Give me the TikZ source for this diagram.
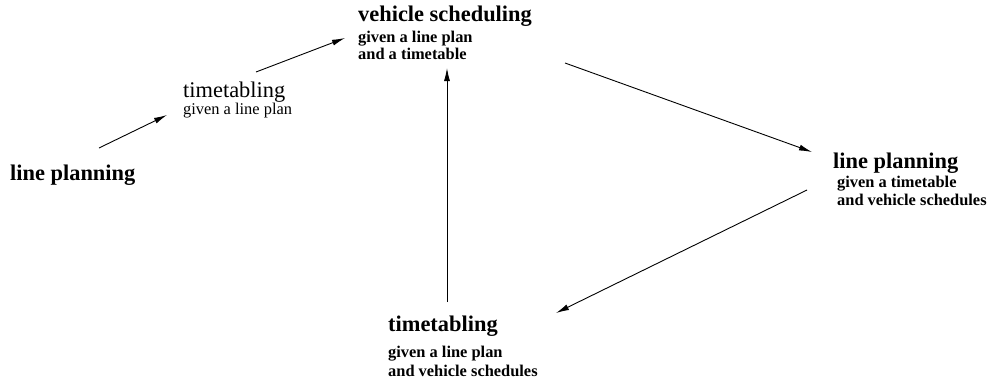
\documentclass[tikz,border=0pt]{standalone}
\usepackage{fontspec}
\setmainfont{Liberation Serif}
\usetikzlibrary{arrows.meta}
\begin{document}
\begin{tikzpicture}[x=1pt,y=-1pt,
  title/.style={inner sep=0pt,anchor=base west,font=\fontsize{22.4}{24}\selectfont\bfseries},
  titlereg/.style={inner sep=0pt,anchor=base west,font=\fontsize{22.4}{24}\selectfont},
  sub/.style={inner sep=0pt,anchor=base west,font=\fontsize{16.4}{18}\selectfont\bfseries},
  subreg/.style={inner sep=0pt,anchor=base west,font=\fontsize{16.4}{18}\selectfont},
  conn/.style={line width=0.9pt,-{Latex[length=13pt,width=6pt]}}]
\useasboundingbox (0,0) rectangle (989,383);
% nodes
\node[title] (lp1) at (10,180) {line planning};
\node[titlereg] (tt1) at (183,97) {timetabling};
\node[subreg] (tt1s) at (183,114) {given a line plan};
\node[title] (vs) at (358,21) {vehicle scheduling};
\node[sub] (vs1) at (358,42) {given a line plan};
\node[sub] (vs2) at (358,59) {and a timetable};
\node[title] (lp2) at (833,168) {line planning};
\node[sub] (lp2a) at (837,187) {given a timetable};
\node[sub] (lp2b) at (837,205) {and vehicle schedules};
\node[title] (tt2) at (388,331) {timetabling};
\node[sub] (tt2a) at (388,357) {given a line plan};
\node[sub] (tt2b) at (388,376) {and vehicle schedules};
% connector ends
\coordinate (c1s) at (99,148);  \coordinate (c1e) at (167,115);
\coordinate (c2s) at (256,72);  \coordinate (c2e) at (345,38);
\coordinate (c3s) at (447,302); \coordinate (c3e) at (447,68);
\coordinate (c4s) at (565,63);  \coordinate (c4e) at (812,152);
\coordinate (c5s) at (807,190); \coordinate (c5e) at (556,313);
\draw[conn] (c1s) -- (c1e);
\draw[conn] (c2s) -- (c2e);
\draw[conn] (c3s) -- (c3e);
\draw[conn] (c4s) -- (c4e);
\draw[conn] (c5s) -- (c5e);
\end{tikzpicture}
\end{document}
